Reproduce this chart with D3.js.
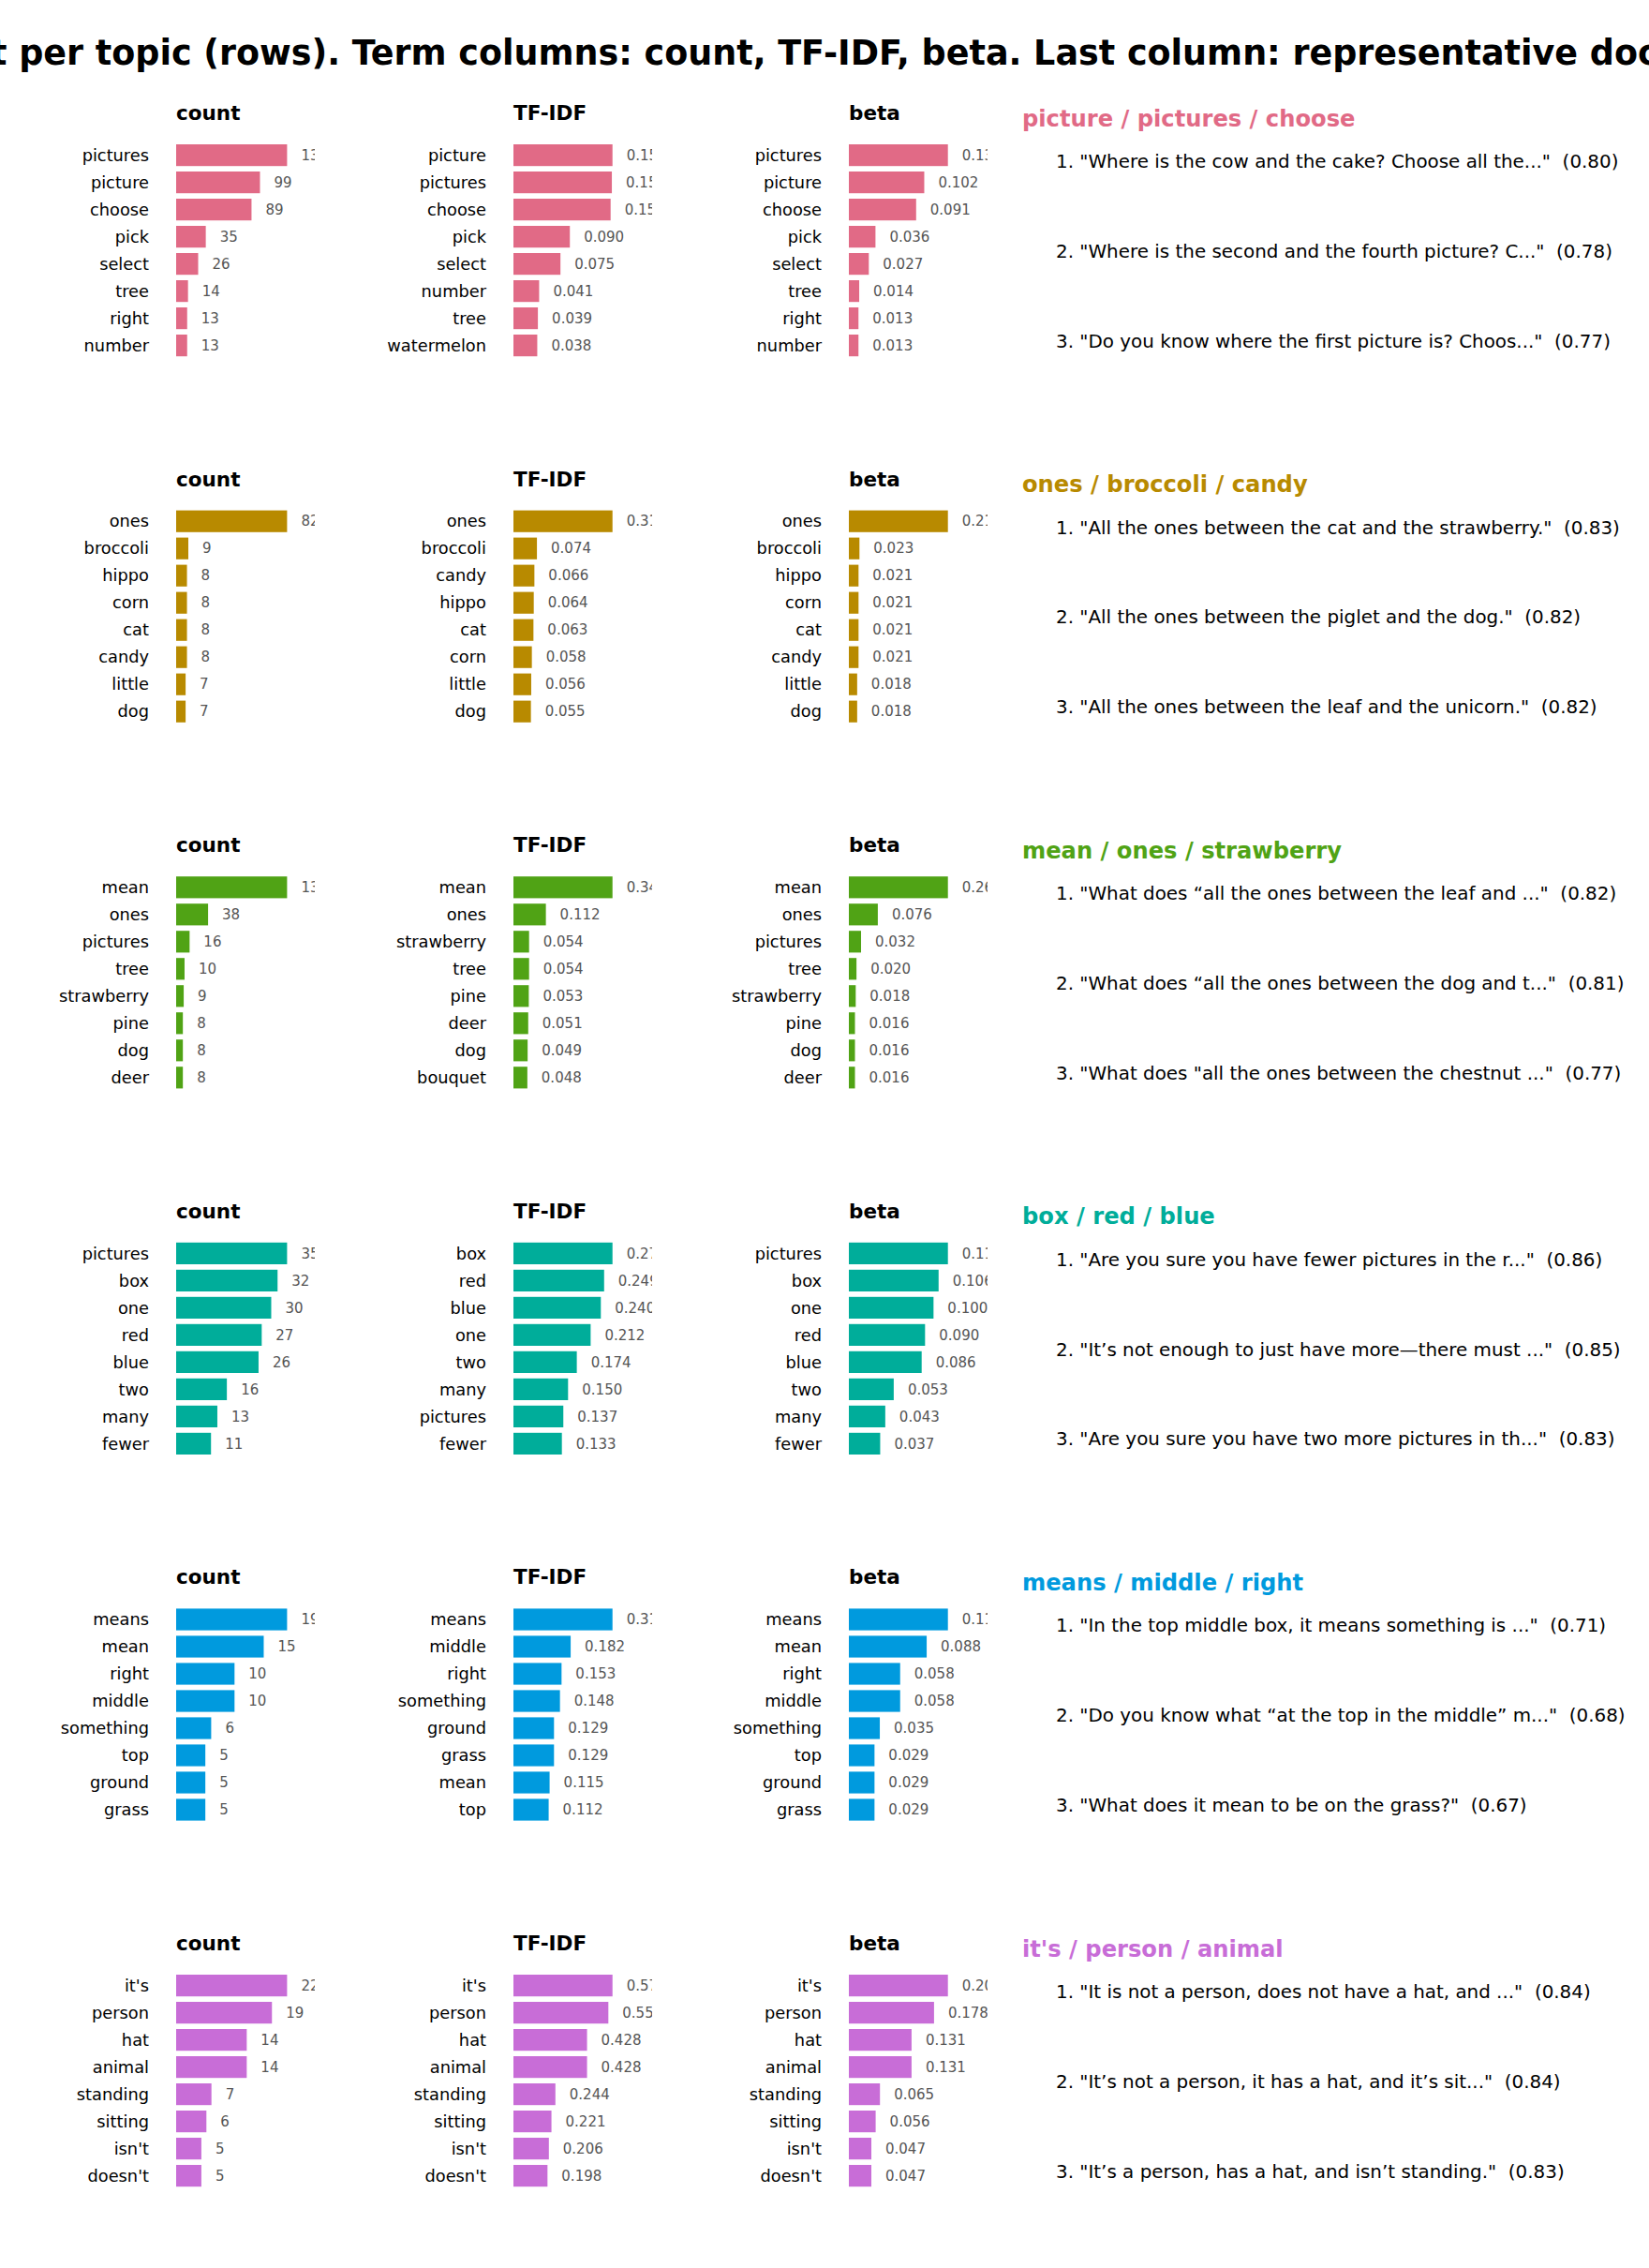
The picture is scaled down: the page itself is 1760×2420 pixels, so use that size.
<!DOCTYPE html>
<html>
<head>
<meta charset="utf-8">
<script src="https://cdn.jsdelivr.net/npm/d3@7"></script>
<style>
  html, body { margin: 0; padding: 0; background: #ffffff; }
  svg { display: block; font-family: "DejaVu Sans", sans-serif; }
</style>
</head>
<body>
<div id="chart"></div>
<script>
// ---- data ----
const titleText = 'Term and document layout per topic (rows). Term columns: count, TF-IDF, beta. Last column: representative documents';

const topicLabels = [
  'picture / pictures / choose',
  'ones / broccoli / candy',
  'mean / ones / strawberry',
  'box / red / blue',
  'means / middle / right',
  "it's / person / animal",
];

const columnNames = ['count', 'TF-IDF', 'beta'];

const countTerms = [
  ['pictures', 'picture', 'choose', 'pick', 'select', 'tree', 'right', 'number'],
  ['ones', 'broccoli', 'hippo', 'corn', 'cat', 'candy', 'little', 'dog'],
  ['mean', 'ones', 'pictures', 'tree', 'strawberry', 'pine', 'dog', 'deer'],
  ['pictures', 'box', 'one', 'red', 'blue', 'two', 'many', 'fewer'],
  ['means', 'mean', 'right', 'middle', 'something', 'top', 'ground', 'grass'],
  ["it's", 'person', 'hat', 'animal', 'standing', 'sitting', "isn't", "doesn't"],
];
const countValues = [
  [131, 99, 89, 35, 26, 14, 13, 13],
  [82, 9, 8, 8, 8, 8, 7, 7],
  [132, 38, 16, 10, 9, 8, 8, 8],
  [35, 32, 30, 27, 26, 16, 13, 11],
  [19, 15, 10, 10, 6, 5, 5, 5],
  [22, 19, 14, 14, 7, 6, 5, 5],
];

const tfidfTerms = [
  ['picture', 'pictures', 'choose', 'pick', 'select', 'number', 'tree', 'watermelon'],
  ['ones', 'broccoli', 'candy', 'hippo', 'cat', 'corn', 'little', 'dog'],
  ['mean', 'ones', 'strawberry', 'tree', 'pine', 'deer', 'dog', 'bouquet'],
  ['box', 'red', 'blue', 'one', 'two', 'many', 'pictures', 'fewer'],
  ['means', 'middle', 'right', 'something', 'ground', 'grass', 'mean', 'top'],
  ["it's", 'person', 'hat', 'animal', 'standing', 'sitting', "isn't", "doesn't"],
];
const tfidfValues = [
  [0.158, 0.157, 0.155, 0.090, 0.075, 0.041, 0.039, 0.038],
  [0.312, 0.074, 0.066, 0.064, 0.063, 0.058, 0.056, 0.055],
  [0.342, 0.112, 0.054, 0.054, 0.053, 0.051, 0.049, 0.048],
  [0.272, 0.249, 0.240, 0.212, 0.174, 0.150, 0.137, 0.133],
  [0.315, 0.182, 0.153, 0.148, 0.129, 0.129, 0.115, 0.112],
  [0.576, 0.552, 0.428, 0.428, 0.244, 0.221, 0.206, 0.198],
];

const betaTerms = [
  ['pictures', 'picture', 'choose', 'pick', 'select', 'tree', 'right', 'number'],
  ['ones', 'broccoli', 'hippo', 'corn', 'cat', 'candy', 'little', 'dog'],
  ['mean', 'ones', 'pictures', 'tree', 'strawberry', 'pine', 'dog', 'deer'],
  ['pictures', 'box', 'one', 'red', 'blue', 'two', 'many', 'fewer'],
  ['means', 'mean', 'right', 'middle', 'something', 'top', 'ground', 'grass'],
  ["it's", 'person', 'hat', 'animal', 'standing', 'sitting', "isn't", "doesn't"],
];
const betaValues = [
  [0.134, 0.102, 0.091, 0.036, 0.027, 0.014, 0.013, 0.013],
  [0.215, 0.023, 0.021, 0.021, 0.021, 0.021, 0.018, 0.018],
  [0.260, 0.076, 0.032, 0.020, 0.018, 0.016, 0.016, 0.016],
  [0.117, 0.106, 0.100, 0.090, 0.086, 0.053, 0.043, 0.037],
  [0.112, 0.088, 0.058, 0.058, 0.035, 0.029, 0.029, 0.029],
  [0.207, 0.178, 0.131, 0.131, 0.065, 0.056, 0.047, 0.047],
];

const docTexts = [
  ['Where is the cow and the cake? Choose all the...',
   'Where is the second and the fourth picture? C...',
   'Do you know where the first picture is? Choos...'],
  ['All the ones between the cat and the strawberry.',
   'All the ones between the piglet and the dog.',
   'All the ones between the leaf and the unicorn.'],
  ['What does \u201call the ones between the leaf and ...',
   'What does \u201call the ones between the dog and t...',
   'What does "all the ones between the chestnut ...'],
  ['Are you sure you have fewer pictures in the r...',
   'It\u2019s not enough to just have more\u2014there must ...',
   'Are you sure you have two more pictures in th...'],
  ['In the top middle box, it means something is ...',
   'Do you know what \u201cat the top in the middle\u201d m...',
   'What does it mean to be on the grass?'],
  ['It is not a person, does not have a hat, and ...',
   'It\u2019s not a person, it has a hat, and it\u2019s sit...',
   'It\u2019s a person, has a hat, and isn\u2019t standing.'],
];
const docScores = [
  [0.80, 0.78, 0.77],
  [0.83, 0.82, 0.82],
  [0.82, 0.81, 0.77],
  [0.86, 0.85, 0.83],
  [0.71, 0.68, 0.67],
  [0.84, 0.84, 0.83],
];

// ---- styling / layout ----
const topicColors = ['#E16A86', '#B88A00', '#50A315', '#00AD9A', '#009ADE', '#C86DD7'];

(function () {
  const W = 1760;
  const H = 2420;
  const ROW_STEP = 390.6;
  const AXIS_LEFT = [188, 548, 906];
  const AXIS_W = 148;
  const BAR_TOP = 151.1;
  const BAR_STEP = 29;
  const TICK_GAP = 29;
  const LABEL_GAP = 15;
  const DOC_X = 1127;
  const TOPIC_X = 1091;

  const svg = d3.select('#chart').append('svg')
    .attr('width', W)
    .attr('height', H)
    .attr('viewBox', `0 0 ${W} ${H}`);

  svg.append('rect')
    .attr('width', W)
    .attr('height', H)
    .attr('fill', '#ffffff');

  // suptitle: centred and wider than the canvas, so both ends are cut
  const title = svg.append('text')
    .attr('y', 69)
    .attr('font-size', 36.5)
    .attr('font-weight', 'bold')
    .attr('fill', '#000000')
    .text(titleText);
  const cutIndex = titleText.indexOf('t per topic');
  const prefixW = cutIndex > 0 ? title.node().getSubStringLength(0, cutIndex) : 0;
  title.attr('x', -prefixW - 10);

  const defs = svg.append('defs');
  const fmtCount = d3.format('d');
  const fmtFloat = d3.format('.3f');

  const columns = [
    { terms: countTerms, values: countValues, pad: 1.25, fmt: fmtCount },
    { terms: tfidfTerms, values: tfidfValues, pad: 1.4, fmt: fmtFloat },
    { terms: betaTerms, values: betaValues, pad: 1.4, fmt: fmtFloat },
  ];

  topicLabels.forEach((topic, r) => {
    const oy = r * ROW_STEP;
    const color = topicColors[r];
    const row = svg.append('g').attr('class', 'topic-row');

    columns.forEach((col, c) => {
      const terms = col.terms[r];
      const values = col.values[r];
      const x0 = AXIS_LEFT[c];

      const x = d3.scaleLinear()
        .domain([0, d3.max(values) * col.pad])
        .range([x0, x0 + AXIS_W]);
      const y = d3.scaleBand()
        .domain(d3.range(terms.length))
        .range([oy + BAR_TOP, oy + BAR_TOP + BAR_STEP * terms.length])
        .paddingInner(0.2)
        .paddingOuter(0.1);

      const clipId = `clip-${r}-${c}`;
      defs.append('clipPath')
        .attr('id', clipId)
        .append('rect')
        .attr('x', x0)
        .attr('y', oy + 90)
        .attr('width', AXIS_W)
        .attr('height', 320);

      const panel = row.append('g').attr('class', 'term-panel');

      panel.append('text')
        .attr('x', x0)
        .attr('y', oy + 128)
        .attr('font-size', 21.5)
        .attr('font-weight', 'bold')
        .attr('fill', '#000000')
        .text(columnNames[c]);

      const inner = panel.append('g').attr('clip-path', `url(#${clipId})`);

      inner.selectAll('rect.bar')
        .data(values)
        .join('rect')
        .attr('class', 'bar')
        .attr('x', x(0))
        .attr('y', (d, i) => y(i))
        .attr('width', d => x(d) - x(0))
        .attr('height', y.bandwidth())
        .attr('fill', color);

      inner.selectAll('text.value')
        .data(values)
        .join('text')
        .attr('class', 'value')
        .attr('x', d => x(d) + LABEL_GAP)
        .attr('y', (d, i) => y(i) + y.bandwidth() / 2)
        .attr('dy', '0.35em')
        .attr('font-size', 15)
        .attr('fill', '#555555')
        .text(d => col.fmt(d));

      panel.selectAll('text.term')
        .data(terms)
        .join('text')
        .attr('class', 'term')
        .attr('x', x0 - TICK_GAP)
        .attr('y', (d, i) => y(i) + y.bandwidth() / 2)
        .attr('dy', '0.35em')
        .attr('text-anchor', 'end')
        .attr('font-size', 17.8)
        .attr('fill', '#000000')
        .text(d => d);
    });

    // representative documents column
    row.append('text')
      .attr('x', TOPIC_X)
      .attr('y', oy + 134.5)
      .attr('font-size', 24.2)
      .attr('font-weight', 'bold')
      .attr('fill', color)
      .text(topic);

    row.selectAll('text.doc')
      .data(docTexts[r])
      .join('text')
      .attr('class', 'doc')
      .attr('x', DOC_X)
      .attr('y', (d, i) => oy + 179 + i * 95.8)
      .attr('font-size', 19.9)
      .attr('fill', '#000000')
      .style('white-space', 'pre')
      .text((d, i) => `${i + 1}. "${d}"  (${docScores[r][i].toFixed(2)})`);
  });
})();
</script>
</body>
</html>
